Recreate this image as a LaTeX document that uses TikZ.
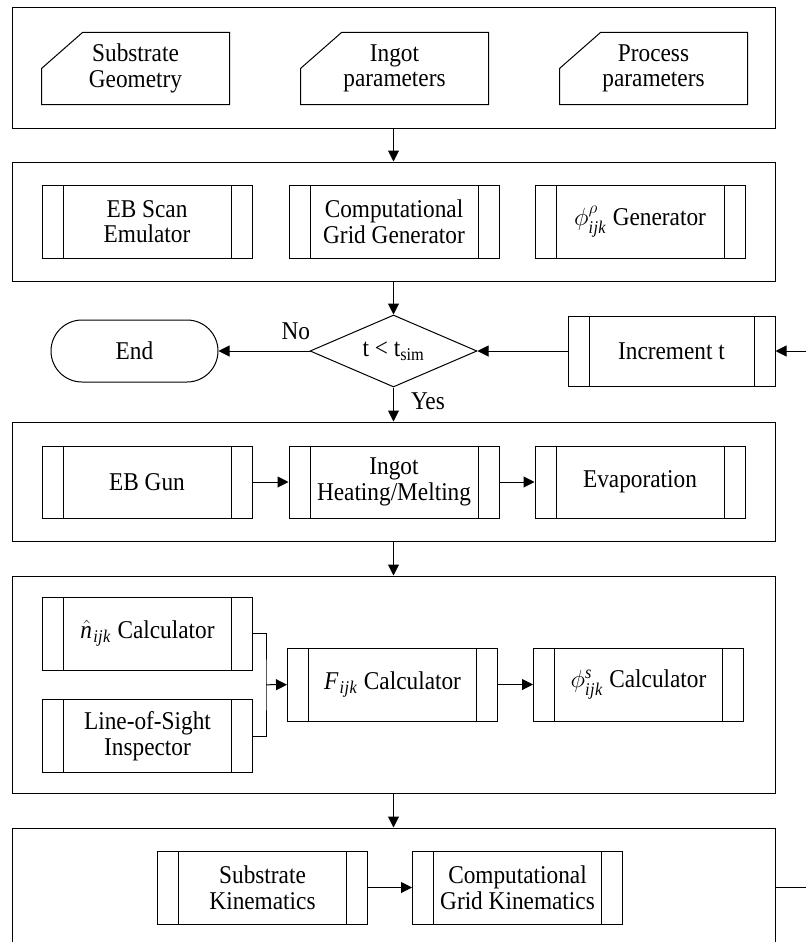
\documentclass[tikz,border=0pt]{standalone}
\usepackage{amsmath}
\usepackage{fontspec}
\setmainfont{Liberation Serif}[FakeStretch=0.91]
\usepackage{tikz}
\usetikzlibrary{shapes.geometric,arrows.meta,positioning,calc}
\newcommand{\flowfont}{\fontsize{25.6}{25.5}\selectfont}

\begin{document}
\begin{tikzpicture}[
    x=1pt, y=-1pt,
    line width=1pt,
    font=\flowfont,
    frameBox/.style={rectangle, draw, minimum width=763pt, inner sep=0pt},
    inputNode/.style={rectangle, minimum width=187pt, minimum height=71pt, align=center, inner sep=0pt},
    procNode/.style={rectangle, draw, minimum width=210pt, minimum height=73pt, align=center, inner sep=0pt,
        path picture={\draw ([xshift=21pt]path picture bounding box.north west) -- ([xshift=21pt]path picture bounding box.south west)
            ([xshift=-21pt]path picture bounding box.north east) -- ([xshift=-21pt]path picture bounding box.south east);}},
    endNode/.style={rectangle, draw, rounded corners=31pt, minimum width=167pt, minimum height=62pt},
    decisionNode/.style={diamond, draw, aspect=2.32, minimum width=167pt, minimum height=72pt, inner sep=0pt},
    arrow/.style={-{Triangle[length=11pt,width=11pt]}},
    flowLabel/.style={inner sep=0pt}
]
\useasboundingbox (0,0) rectangle (806,942);

% input stage
\node[frameBox, minimum height=120pt] (f1) at (393.5,68) {};
\node[inputNode] (subgeo) at (135.5,68.5) {Substrate\\Geometry};
\node[inputNode, right=71pt of subgeo] (ingpar) {Ingot\\parameters};
\node[inputNode, right=71pt of ingpar] (procpar) {Process\\parameters};
\foreach \n in {subgeo,ingpar,procpar}
  \draw ($(\n.north west)+(41,0)$) -- (\n.north east) -- (\n.south east) -- (\n.south west) -- ($(\n.north west)+(0,36)$) -- cycle;

% setup stage
\node[frameBox, minimum height=119pt] (f2) at (393.5,221.5) {};
\node[procNode] (ebscan) at (147,221.5) {EB Scan\\Emulator};
\node[procNode, right=36pt of ebscan] (gridgen) {Computational\\Grid Generator};
\node[procNode, right=35pt of gridgen] (phigen) {$\phi^{\rho}_{\mathit{ijk}}$ Generator};

% time loop
\node[decisionNode] (check) at (393.5,351) {t < t\textsubscript{sim}};
\node[endNode, left=91pt of check] (endnode) {End};
\node[procNode, minimum width=207pt, minimum height=70pt, right=90pt of check] (incr) {Increment t};
\coordinate (loopin) at (806,351);

% deposition stage
\node[frameBox, minimum height=119pt] (f3) at (393.5,481.5) {};
\node[procNode, minimum height=72pt] (ebgun) at (147,482) {EB Gun};
\node[procNode, minimum height=72pt, right=36pt of ebgun] (melt) {Ingot\\Heating/Melting};
\node[procNode, minimum height=72pt, right=35pt of melt] (evap) {Evaporation};

% flux stage
\node[frameBox, minimum height=217pt] (f4) at (393.5,684.5) {};
\node[procNode] (nhat) at (147.5,633.5) {$\hat{\mathit{n}}_{\mathit{ijk}}$ Calculator};
\node[procNode] (los) at (147.5,736) {Line-of-Sight\\Inspector};
\node[procNode] (fcalc) at (392.5,684.5) {$\mathit{F}_{\mathit{ijk}}$ Calculator};
\node[procNode, right=35pt of fcalc] (phicalc) {$\phi^{\mathit{s}}_{\mathit{ijk}}$ Calculator};
\coordinate (join) at ($(nhat.east)!0.5!(los.east)+(13,0)$);

% kinematics stage
\node[frameBox, minimum height=118pt] (f5) at (393.5,887) {};
\node[procNode] (subkin) at (262.5,887.5) {Substrate\\Kinematics};
\node[procNode, right=44pt of subkin] (gridkin) {Computational\\Grid Kinematics};
\coordinate (loopout) at (806,887);

\draw[arrow] (f1) -- (f2);
\draw[arrow] (f2) -- (check);
\draw[arrow] (check) -- node[flowLabel, pos=0.15, above=11pt] {No} (endnode);
\draw[arrow] (incr) -- (check);
\draw[arrow] (loopin) -- (incr);
\draw[arrow] (check) -- node[flowLabel, pos=0.4, right=17pt] {Yes} (f3);
\draw[arrow] (ebgun) -- (melt);
\draw[arrow] (melt) -- (evap);
\draw[arrow] (f3) -- (f4);
\draw (nhat.east) -| (join) |- (los.east);
\draw[arrow] (join) -- (fcalc);
\draw[arrow] (fcalc) -- (phicalc);
\draw[arrow] (f4) -- (f5);
\draw[arrow] (subkin) -- (gridkin);
\draw (f5.east) -- (loopout);

\end{tikzpicture}
\end{document}
